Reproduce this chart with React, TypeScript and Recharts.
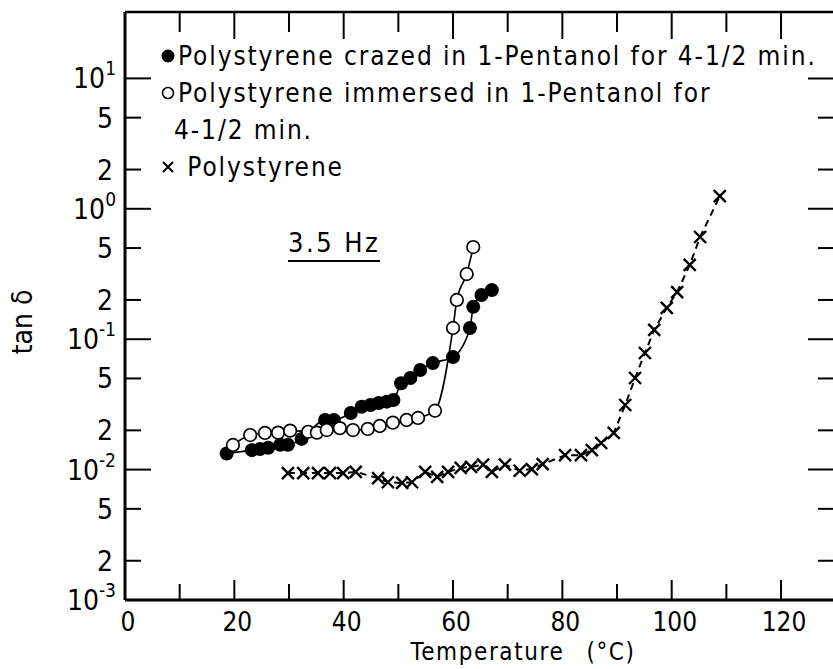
import React from 'react';
import { LineChart, Line, XAxis, YAxis, Legend } from 'recharts';

const FONT = "'DejaVu Sans Condensed', 'DejaVu Sans', sans-serif";

// Polystyrene crazed in 1-Pentanol (filled circles)
const crazedTemp = [18.6, 23.2, 24.7, 26.2, 28.4, 29.8, 32.3, 36.6, 38.2, 41.3, 43.3, 44.9, 46.4, 47.9, 49.1, 50.5, 52.2, 54.0, 56.3, 60.0, 63.1, 63.7, 65.2, 67.1];
const crazedTan = [0.0133, 0.0141, 0.0144, 0.0147, 0.0155, 0.0155, 0.0172, 0.024, 0.024, 0.0272, 0.0303, 0.0313, 0.0324, 0.0332, 0.0342, 0.0459, 0.0504, 0.058, 0.0656, 0.0729, 0.122, 0.177, 0.218, 0.238];

// Polystyrene immersed in 1-Pentanol (open circles)
const immersedTemp = [19.75, 22.9, 25.6, 28.0, 30.2, 33.5, 35.1, 36.9, 39.3, 41.7, 44.4, 46.6, 49.0, 51.5, 53.6, 56.7, 60.0, 60.7, 62.5, 63.7];
const immersedTan = [0.01545, 0.0184, 0.0191, 0.0192, 0.0199, 0.0195, 0.0192, 0.0201, 0.0208, 0.0201, 0.0205, 0.0216, 0.0229, 0.024, 0.0249, 0.0283, 0.122, 0.2, 0.316, 0.509];

// Polystyrene (crosses)
const plainTemp = [29.8, 32.6, 35.3, 37.5, 39.9, 42.2, 46.3, 48.1, 50.7, 52.5, 54.9, 57.1, 59.1, 61.4, 63.3, 65.5, 67.1, 69.5, 72.2, 74.4, 76.4, 80.5, 83.4, 85.4, 87.1, 89.4, 91.5, 93.3, 95.1, 96.8, 99.1, 101.0, 103.3, 105.2, 108.8];
const plainTan = [0.0094, 0.0094, 0.0094, 0.0094, 0.0094, 0.0096, 0.0086, 0.008, 0.0079, 0.008, 0.0096, 0.0088, 0.0096, 0.0103, 0.0105, 0.0109, 0.0096, 0.0109, 0.0098, 0.0101, 0.011, 0.0129, 0.0129, 0.0141, 0.016, 0.0191, 0.0313, 0.0504, 0.0784, 0.118, 0.174, 0.23, 0.371, 0.608, 1.25];

const xTicks = [0, 10, 20, 30, 40, 50, 60, 70, 80, 90, 100, 110, 120, 130];
const xLabeled = [0, 20, 40, 60, 80, 100, 120];
const yTicks = [0.001, 0.002, 0.005, 0.01, 0.02, 0.05, 0.1, 0.2, 0.5, 1, 2, 5, 10];
const legendLabels = [
  'Polystyrene crazed in 1-Pentanol for 4-1/2 min.',
  'Polystyrene immersed in 1-Pentanol for\n4-1/2 min.',
  'Polystyrene',
];
const legendSymbols = ['filled', 'open', 'cross'];
const annotation = '3.5 Hz';
const xTitle = 'Temperature';
const xUnit = '(°C)';
const yTitle = 'tan δ';

const zip = (t: number[], v: number[]) => t.map((x, i) => ({ t: x, v: v[i] }));
const crazed = zip(crazedTemp, crazedTan);
const immersed = zip(immersedTemp, immersedTan);
const plain = zip(plainTemp, plainTan);

const CHART_W = 860;
const CHART_H = 669;
const LEFT_W = 125;
const RIGHT_M = 15;
const TOP_H = 12;
const BOTTOM_H = 69;
const PLOT_W = CHART_W - LEFT_W - RIGHT_M;

const X_DOMAIN: [number, number] = [0, 131.7];
const Y_DOMAIN: [number, number] = [0.001, 32.3];

const isDecade = (v: number) => {
  const e = Math.round(Math.log10(v));
  return Math.abs(v / Math.pow(10, e) - 1) < 1e-6;
};

const BottomTick = (p: any) => {
  const { x, y, payload } = p;
  const v = payload.value;
  if (v === 0 || v > 125) {
    return xLabeled.includes(v) ? (
      <text x={x + 3} y={y + 31} textAnchor="middle" fontSize={26} fontFamily={FONT} fill="#000">{v}</text>
    ) : <g />;
  }
  const major = v % 20 === 0;
  return (
    <g>
      <line x1={x} x2={x} y1={y} y2={y - (major ? 20 : 16)} stroke="#000" strokeWidth={2} />
      {xLabeled.includes(v) && (
        <text x={x + 3} y={y + 31} textAnchor="middle" fontSize={26} fontFamily={FONT} fill="#000">{v}</text>
      )}
    </g>
  );
};

const TopTick = (p: any) => {
  const { x, y, payload } = p;
  const v = payload.value;
  if (v === 0) return <g />;
  const major = v % 20 === 0;
  return <line x1={x} x2={x} y1={y} y2={y + (major ? 27 : 20)} stroke="#000" strokeWidth={2} />;
};

const LeftTick = (p: any) => {
  const { x, y, payload } = p;
  const v = payload.value;
  const dec = isDecade(v);
  const e = Math.floor(Math.log10(v) + 1e-9);
  const mant = Math.round(v / Math.pow(10, e));
  const rx = x + PLOT_W;
  return (
    <g>
      <line x1={x} x2={x + (dec ? 26 : 16)} y1={y} y2={y} stroke="#000" strokeWidth={2} />
      <line x1={rx} x2={rx - (dec ? 37 : 27)} y1={y} y2={y} stroke="#000" strokeWidth={2} />
      {dec ? (
        <text x={x - 9} y={y + 10} textAnchor="end" fontSize={28} fontFamily={FONT} fill="#000">
          10<tspan dy={-13} fontSize={19}>{e}</tspan>
        </text>
      ) : (
        <text x={x - 12} y={y + 10} textAnchor="end" fontSize={28} fontFamily={FONT} fill="#000">{mant}</text>
      )}
    </g>
  );
};

const filledDot = (p: any) => (
  <circle key={`f-${p.index}`} cx={p.cx} cy={p.cy} r={7} fill="#000" />
);
const openDot = (p: any) => (
  <circle key={`o-${p.index}`} cx={p.cx} cy={p.cy} r={6.3} fill="#fff" stroke="#000" strokeWidth={1.7} />
);
const crossDot = (p: any) => {
  const { cx, cy } = p;
  const s = 6;
  return (
    <path key={`x-${p.index}`} d={`M${cx - s},${cy - s}L${cx + s},${cy + s}M${cx + s},${cy - s}L${cx - s},${cy + s}`} stroke="#000" strokeWidth={2.4} fill="none" />
  );
};

const Symbol = ({ kind }: { kind: string }) => (
  <svg width={16} height={16} style={{ display: 'inline-block', verticalAlign: 'middle', marginRight: 2, marginTop: -4 }}>
    {kind === 'filled' && <circle cx={8} cy={8} r={6.5} fill="#000" />}
    {kind === 'open' && <circle cx={8} cy={8} r={5.5} fill="#fff" stroke="#000" strokeWidth={1.6} />}
    {kind === 'cross' && <path d="M3,3L13,13M13,3L3,13" stroke="#000" strokeWidth={2} />}
  </svg>
);

const LegendContent = () => (
  <div style={{ fontFamily: FONT, fontSize: 26, letterSpacing: 1.9, lineHeight: '37px', color: '#000', whiteSpace: 'pre', textAlign: 'left' }}>
    {legendLabels.map((lab, i) => {
      const parts = lab.split('\n');
      return (
        <div key={i}>
          <div>
            <Symbol kind={legendSymbols[i]} />
            {legendSymbols[i] === 'cross' ? ' ' : ''}
            {parts[0]}
          </div>
          {parts.slice(1).map((pp, j) => (
            <div key={j} style={{ paddingLeft: 14 }}>{pp}</div>
          ))}
        </div>
      );
    })}
  </div>
);

const XTitle = (props: any) => {
  const vb = props.viewBox;
  return (
    <text x={vb.x + vb.width / 2 + 38} y={vb.y + 60} textAnchor="middle" fontSize={24} letterSpacing={1.6} fontFamily={FONT} fill="#000">
      {xTitle}<tspan dx={22}>{xUnit}</tspan>
    </text>
  );
};

const YTitle = (props: any) => {
  const vb = props.viewBox;
  const cx = vb.x + 22;
  const cy = vb.y + vb.height / 2 + 16;
  return (
    <text x={cx} y={cy} transform={`rotate(-90 ${cx} ${cy})`} textAnchor="middle" dominantBaseline="central" fontSize={28} fontFamily={FONT} fill="#000">
      {yTitle}
    </text>
  );
};

export default function App() {
  return (
    <div style={{ position: 'absolute', left: 0, top: 0, width: 833, height: CHART_H, overflow: 'hidden' }}>
      <LineChart width={CHART_W} height={CHART_H} margin={{ top: 0, right: RIGHT_M, bottom: 0, left: 0 }}>
        <XAxis xAxisId="bottom" dataKey="t" type="number" domain={X_DOMAIN} ticks={xTicks} interval={0}
          allowDataOverflow height={BOTTOM_H} tickSize={0} tickMargin={0} tick={BottomTick}
          axisLine={{ stroke: '#000', strokeWidth: 3 }} tickLine={false} label={<XTitle />} />
        <XAxis xAxisId="top" orientation="top" dataKey="t" type="number" domain={X_DOMAIN} ticks={xTicks} interval={0}
          allowDataOverflow height={TOP_H} tickSize={0} tickMargin={0} tick={TopTick}
          axisLine={{ stroke: '#000', strokeWidth: 2.5 }} tickLine={false} />
        <YAxis yAxisId="left" type="number" scale="log" domain={Y_DOMAIN} ticks={yTicks} interval={0}
          allowDataOverflow width={LEFT_W} tickSize={0} tickMargin={0} tick={LeftTick}
          axisLine={{ stroke: '#000', strokeWidth: 3 }} tickLine={false} label={<YTitle />} />
        <Line xAxisId="bottom" yAxisId="left" data={plain} dataKey="v" type="linear" stroke="#000" strokeWidth={2}
          strokeDasharray="7 5" dot={crossDot} activeDot={false} isAnimationActive={false} name="Polystyrene" />
        <Line xAxisId="bottom" yAxisId="left" data={crazed} dataKey="v" type="monotone" stroke="#000" strokeWidth={1.6}
          dot={filledDot} activeDot={false} isAnimationActive={false} name="crazed" />
        <Line xAxisId="bottom" yAxisId="left" data={immersed} dataKey="v" type="monotone" stroke="#000" strokeWidth={1.6}
          dot={openDot} activeDot={false} isAnimationActive={false} name="immersed" />
        <Legend layout="vertical" align="center" verticalAlign="middle" content={<LegendContent />}
          wrapperStyle={{ left: 160, top: 38, width: 'auto', height: 'auto' }} />
      </LineChart>
      <div style={{ position: 'absolute', left: 288, top: 228, fontFamily: FONT, fontSize: 27, letterSpacing: 2.5, lineHeight: '30px', color: '#000', borderBottom: '2px solid #000', paddingBottom: 2 }}>
        {annotation}
      </div>
    </div>
  );
}
